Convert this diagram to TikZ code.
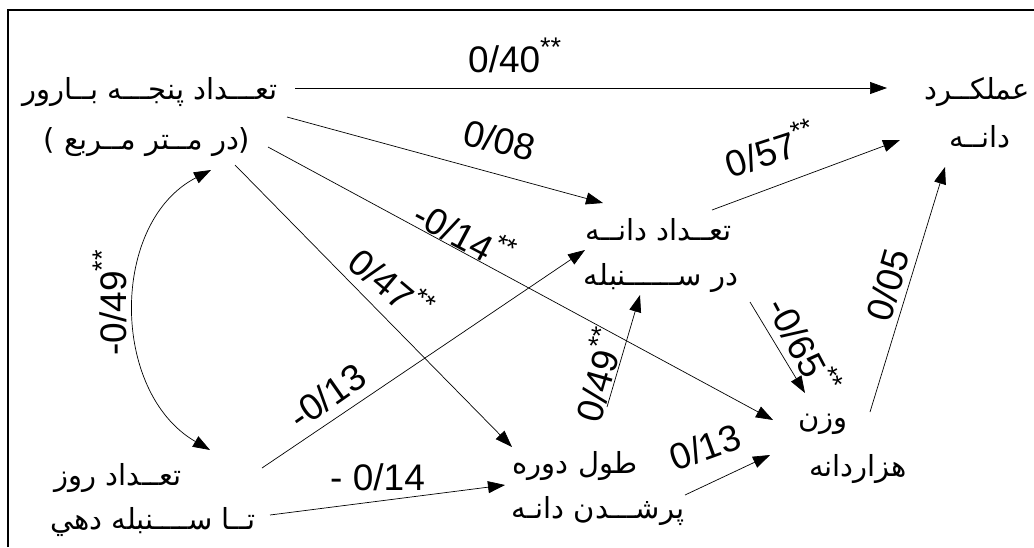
\documentclass[tikz,border=0pt]{standalone}
\usepackage{fontspec}
\setmainfont{Liberation Sans}
\newfontfamily\fa[Script=Arabic]{DejaVu Sans}
\TeXXeTstate=1
\usetikzlibrary{arrows.meta}
% significance marks: raised, a little smaller than the digits
\newcommand{\st}{\raisebox{0.42em}{\fontsize{27}{27}\selectfont **}}

\begin{document}
\begin{tikzpicture}[x=1pt,y=-1pt,
  txt/.style={font=\fontsize{29}{33}\selectfont\fa, inner sep=0pt},
  num/.style={font=\fontsize{37}{40}\selectfont, inner sep=0pt},
  link/.style={draw, line width=0.7pt, -{Triangle[length=17pt,width=12pt]}},
  dlink/.style={draw, line width=0.7pt, {Triangle[length=17pt,width=12pt]}-{Triangle[length=17pt,width=12pt]}}]

% canvas and frame
\useasboundingbox (0,0) rectangle (1034,547);
\fill[white] (0,0) rectangle (1034,547);
\draw[line width=2.4pt] (8,547) -- (8,10) -- (1034,10);

% variables
\node[txt] (p1) at (150,92) {\beginR تعـــداد پنجـــه بــارور\endR};
\node[txt] (p2) at (147,142) {\beginR (در مــتر مــربع )\endR};
\node[txt] (y1) at (977,92) {\beginR عملکــرد\endR};
\node[txt] (y2) at (980,137) {\beginR دانــه\endR};
\node[txt] (k1) at (659,230) {\beginR تعــداد دانــه\endR};
\node[txt] (k2) at (661,278) {\beginR در ســــــنبله\endR};
\node[txt] (w1) at (823,424) {\beginR وزن\endR};
\node[txt] (w2) at (858,469) {\beginR هزاردانه\endR};
\node[txt] (g1) at (575,466) {\beginR طول دوره\endR};
\node[txt] (g2) at (598,511) {\beginR پرشـــدن دانـه\endR};
\node[txt] (d1) at (118,478) {\beginR تعــداد روز\endR};
\node[txt] (d2) at (153,522) {\beginR تــا ســــنبله دهي\endR};

% connector ends
\coordinate (a0) at (295,88);  \coordinate (a1) at (887,88);
\coordinate (b0) at (287,117); \coordinate (b1) at (603,203);
\coordinate (c0) at (268,147); \coordinate (c1) at (773,420);
\coordinate (e0) at (235,165); \coordinate (e1) at (512,447);
\coordinate (r0) at (211,170); \coordinate (r1) at (210,450);
\coordinate (f0) at (262,468); \coordinate (f1) at (585,250);
\coordinate (h0) at (270,515); \coordinate (h1) at (505,485);
\coordinate (i0) at (607,407); \coordinate (i1) at (640,295);
\coordinate (j0) at (712,210); \coordinate (j1) at (900,140);
\coordinate (m0) at (750,302); \coordinate (m1) at (805,393);
\coordinate (n0) at (870,412); \coordinate (n1) at (945,167);
\coordinate (q0) at (685,495); \coordinate (q1) at (770,455);

% paths
\path[link] (a0) -- (a1);
\path[link] (b0) -- (b1);
\path[link] (c0) -- (c1);
\path[link] (e0) -- (e1);
\path[dlink] (r0) .. controls (110,222) and (110,392) .. (r1);
\path[link] (f0) -- (f1);
\path[link] (h0) -- (h1);
\path[link] (i0) -- (i1);
\path[link] (j0) -- (j1);
\path[link] (m0) -- (m1);
\path[link] (n0) -- (n1);
\path[link] (q0) -- (q1);

% coefficients
\node[num, anchor=base west] (la) at (468,72) {0/40\st};
\node[num, rotate=-14] (lb) at (500,140) {0/08};
\node[num, rotate=-28] (lc) at (465,233) {-0/14\st};
\node[num, rotate=-40] (le) at (392,283) {0/47\st};
\node[num, rotate=90] (lr) at (110,303) {-0/49\st};
\node[num, rotate=35] (lf) at (327,396) {-0/13};
\node[num, anchor=base west] (lh) at (330,490) {-\hspace{0.28em}0/14};
\node[num, rotate=74] (li) at (597,375) {0/49\st};
\node[num, rotate=18] (lj) at (770,148) {0/57\st};
\node[num, rotate=-62] (lm) at (805,345) {-0/65\st};
\node[num, rotate=74] (ln) at (888,285) {0/05};
\node[num, rotate=20] (lq) at (705,447) {0/13};
\end{tikzpicture}
\end{document}
